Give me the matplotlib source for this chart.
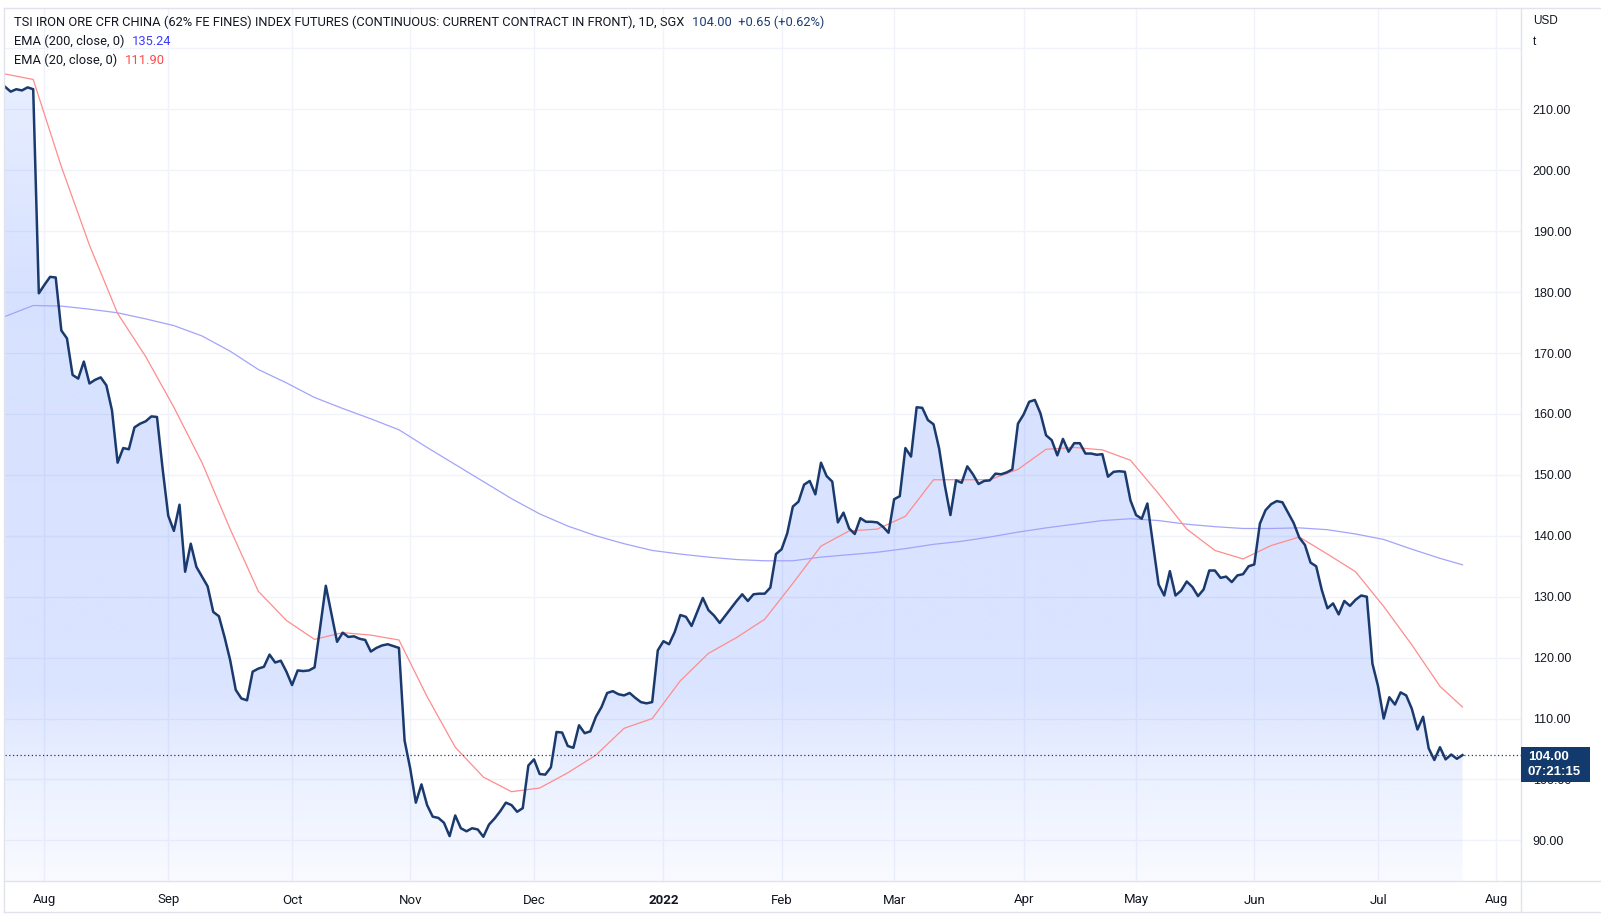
import numpy as np
import pandas as pd
import matplotlib
matplotlib.use("Agg")
import matplotlib.pyplot as plt
from matplotlib.lines import Line2D
from matplotlib.patches import Rectangle

# daily closes, SGX iron ore 62% Fe continuous, 22 Jul 2021 .. 22 Jul 2022
close = [
    213.7, 212.9, 213.3, 213.1, 213.6, 213.3, 179.8, 181.2, 182.5, 182.4,
    173.7, 172.4, 166.4, 165.8, 168.6, 165.0, 165.6, 166.0, 164.7, 160.6,
    152.0, 154.4, 154.2, 157.8, 158.4, 158.8, 159.6, 159.5, 151.0, 143.3,
    140.8, 145.1, 134.1, 138.7, 134.9, 133.3, 131.7, 127.5, 126.8, 123.4,
    119.6, 114.7, 113.3, 113.0, 117.7, 118.2, 118.5, 120.5, 119.2, 119.5,
    117.7, 115.5, 117.9, 117.8, 117.9, 118.4, 125.0, 131.8, 127.2, 122.6,
    124.1, 123.4, 123.5, 123.1, 122.9, 121.0, 121.6, 122.0, 122.2, 121.9,
    121.6, 106.4, 101.8, 96.2, 99.2, 95.8, 93.9, 93.7, 92.9, 90.7,
    94.1, 92.0, 91.5, 92.0, 91.8, 90.6, 92.6, 93.6, 94.8, 96.2,
    95.8, 94.7, 95.3, 102.3, 103.3, 100.9, 100.8, 102.0, 107.8, 107.7,
    105.5, 105.2, 108.9, 107.6, 107.9, 110.3, 111.9, 114.2, 114.5, 114.0,
    113.8, 114.2, 113.4, 112.7, 112.5, 112.7, 121.2, 122.7, 122.2, 124.2,
    127.0, 126.7, 125.2, 127.5, 129.8, 127.8, 126.9, 125.7, 126.9, 128.1,
    129.3, 130.4, 129.3, 130.4, 130.5, 130.5, 131.5, 137.0, 137.8, 140.4,
    144.8, 145.6, 148.4, 149.0, 146.8, 152.0, 149.8, 148.9, 142.2, 143.8,
    141.2, 140.3, 142.9, 142.3, 142.3, 142.2, 141.5, 140.5, 146.0, 146.5,
    154.4, 153.0, 161.1, 161.0, 159.0, 158.3, 154.3, 148.3, 143.4, 149.1,
    148.7, 151.4, 150.1, 148.5, 149.0, 149.1, 150.2, 150.1, 150.4, 150.9,
    158.4, 159.9, 162.0, 162.3, 160.1, 156.5, 155.7, 153.2, 155.9, 153.8,
    155.2, 155.2, 153.5, 153.5, 153.3, 153.4, 149.7, 150.5, 150.6, 150.5,
    145.8, 143.4, 142.8, 145.3, 138.7, 132.0, 130.2, 134.2, 130.2, 131.0,
    132.5, 131.6, 130.1, 131.2, 134.3, 134.3, 133.1, 133.3, 132.4, 133.5,
    133.7, 135.0, 135.3, 142.0, 144.2, 145.2, 145.7, 145.5, 143.8, 142.1,
    139.7, 138.5, 135.6, 135.0, 131.1, 128.1, 128.9, 127.1, 129.3, 128.5,
    129.5, 130.2, 130.0, 119.0, 115.3, 110.0, 113.5, 112.3, 114.3, 113.8,
    111.6, 108.2, 110.3, 105.1, 103.2, 105.3, 103.3, 104.1, 103.4, 104.0,
]

# EMA readings, every 5th bar plus the last bar
ema20 = [
    215.8, 214.9, 200.6, 187.7, 176.5, 169.4, 161.1, 152.0, 141.1, 130.9,
    126.1, 123.0, 124.1, 123.7, 122.9, 113.6, 105.3, 100.4, 98.0, 98.6,
    101.1, 104.0, 108.4, 110.0, 116.2, 120.7, 123.3, 126.3, 132.2, 138.3,
    140.8, 141.1, 143.2, 149.2, 149.2, 149.2, 150.9, 154.2, 154.5, 154.1,
    152.4, 146.9, 141.1, 137.6, 136.2, 138.4, 139.8, 137.0, 134.1, 128.4,
    122.1, 115.3, 111.90,
]
ema200 = [
    176.0, 177.8, 177.7, 177.2, 176.6, 175.6, 174.5, 172.8, 170.3, 167.3,
    165.1, 162.7, 160.9, 159.2, 157.4, 154.5, 151.7, 148.9, 146.1, 143.6,
    141.6, 140.0, 138.7, 137.6, 137.0, 136.5, 136.1, 135.9, 135.9, 136.5,
    136.9, 137.3, 137.9, 138.6, 139.1, 139.8, 140.6, 141.3, 141.9, 142.5,
    142.8, 142.5, 141.9, 141.5, 141.2, 141.2, 141.3, 141.0, 140.3, 139.4,
    137.8, 136.3, 135.24,
]

holidays = ["2022-04-15", "2022-05-02"]
title = "TSI IRON ORE CFR CHINA (62% FE FINES) INDEX FUTURES (CONTINUOUS: CURRENT CONTRACT IN FRONT), 1D, SGX"
last_price = 104.00
change_txt = "104.00  +0.65 (+0.62%)"
countdown = "07:21:15"

# trading days (bar index based axis like TradingView)
days = pd.bdate_range("2021-07-22", "2022-08-31")
days = days[~days.isin(pd.to_datetime(holidays))]
n = len(close)
x = np.arange(n)
ema_x = list(range(0, n, 5)) + [n - 1]

W, H = 1601, 917
fig = plt.figure(figsize=(W / 100, H / 100), dpi=100)
fig.patch.set_facecolor("white")

ax_l, ax_r, ax_t, ax_b = 4.5, 1521, 8, 881
ax = fig.add_axes([ax_l / W, 1 - ax_b / H, (ax_r - ax_l) / W, (ax_b - ax_t) / H])
ymin, ymax = 83.34, 226.63
xmin, xmax = -0.1, 269.4
for s in ax.spines.values():
    s.set_visible(False)

grid_c = "#f0f3fa"
# month ticks at first bar of each month
month_pos, month_lab = [], []
for i in range(1, len(days)):
    if i > xmax:
        break
    if days[i].month != days[i - 1].month:
        month_pos.append(i)
        month_lab.append("2022" if days[i].month == 1 else days[i].strftime("%b"))

yt = np.arange(90, 230, 10)
ax.set_yticks(yt)
ax.set_yticklabels([f"{v:.2f}" if v <= 210 else "" for v in yt])
ax.set_xticks(month_pos)
ax.set_xticklabels(month_lab)
ax.yaxis.tick_right()
ax.tick_params(axis="y", length=0, pad=8.5, labelsize=9, labelcolor="#131722")
ax.tick_params(axis="x", length=0, pad=9, labelsize=9.5, labelcolor="#131722")
for lab in ax.get_yticklabels():
    lab.set_fontfamily(["Liberation Sans", "DejaVu Sans"])
for lab in ax.get_xticklabels():
    lab.set_fontfamily(["Roboto", "DejaVu Sans"])
    if lab.get_text() == "2022":
        lab.set_fontweight("bold")
ax.grid(True, color=grid_c, linewidth=1.0, zorder=0)
ax.set_axisbelow(True)

# gradient area fill under the price line
gv = np.linspace(ymin, ymax, 400)
alpha = np.interp(gv, [83, 100, 115, 180, 215, 227], [0.03, 0.09, 0.17, 0.19, 0.11, 0.09])
rgba = np.zeros((len(gv), 1, 4))
rgba[..., 0], rgba[..., 1], rgba[..., 2] = 41 / 255, 98 / 255, 1.0
rgba[..., 3] = alpha[:, None]
im = ax.imshow(rgba, extent=[xmin, xmax, ymin, ymax], origin="lower", aspect="auto",
               zorder=1, interpolation="bilinear")
poly = ax.fill_between(x, close, ymin, color="none", linewidth=0)
im.set_clip_path(poly.get_paths()[0], ax.transData)
ax.set_xlim(xmin, xmax)
ax.set_ylim(ymin, ymax)

ax.plot(ema_x, ema200, color="#a3a3fb", linewidth=0.9, zorder=3)
ax.plot(ema_x, ema20, color="#ff8c8c", linewidth=0.9, zorder=3)
ax.plot(x, close, color="#1a3a6e", linewidth=1.8, zorder=4, solid_joinstyle="round")
ax.axhline(last_price, color="#1a3a6e", linewidth=0.9, linestyle=(0, (1, 2)), zorder=5)

# last price tag on the price scale (display pixel coordinates)
py = ax.transData.transform((0, last_price))[1]
fig.add_artist(Rectangle((ax_r, py - 27), 69, 35, transform=None, facecolor="#133a6d",
                         edgecolor="none", zorder=10))
tag = dict(transform=None, ha="left", va="center", color="white", fontsize=9.5,
           fontweight="bold", family=["Liberation Sans", "DejaVu Sans"], zorder=11)
fig.text(ax_r + 7, py - 1.5, f"{last_price:.2f}", **tag)
fig.text(ax_r + 7, py - 17, countdown, **tag)

# currency / unit on top of the price scale
fig.text(1533 / W, 1 - 21.5 / H, "USD", fontsize=8.5, color="#131722", va="center",
         family=["Liberation Sans", "DejaVu Sans"])
fig.text(1533 / W, 1 - 42 / H, "t", fontsize=8.5, color="#131722", va="center",
         family=["Liberation Sans", "DejaVu Sans"])

# legend header
hf = dict(fontsize=9.3, va="center", family=["Roboto", "DejaVu Sans"])
t1 = fig.text(13.5 / W, 1 - 22.5 / H, title, color="#131722", **hf)
ax.annotate(change_txt, xy=(1, 0.5), xycoords=t1, xytext=(8, 0), textcoords="offset pixels",
            color="#1e3d73", **hf)
t2 = fig.text(13.5 / W, 1 - 41.5 / H, "EMA (200, close, 0)", color="#131722", **hf)
ax.annotate(f"{ema200[-1]:.2f}", xy=(1, 0.5), xycoords=t2, xytext=(8, 0), textcoords="offset pixels",
            color="#3d3dff", **hf)
t3 = fig.text(13.5 / W, 1 - 60 / H, "EMA (20, close, 0)", color="#131722", **hf)
ax.annotate(f"{ema20[-1]:.2f}", xy=(1, 0.5), xycoords=t3, xytext=(8, 0), textcoords="offset pixels",
            color="#ff4a4a", **hf)

# frame lines of the chart widget
fc = "#e0e3eb"
for (x0, y0, x1, y1) in [(4, 8, 1600, 8), (4, 912, 1600, 912), (4, 8, 4, 912),
                          (ax_r, 8, ax_r, 912), (4, ax_b, 1600, ax_b)]:
    fig.add_artist(Line2D([x0, x1], [H - y0, H - y1], transform=None, color=fc, linewidth=1))

fig.savefig("out.png", dpi=100)
